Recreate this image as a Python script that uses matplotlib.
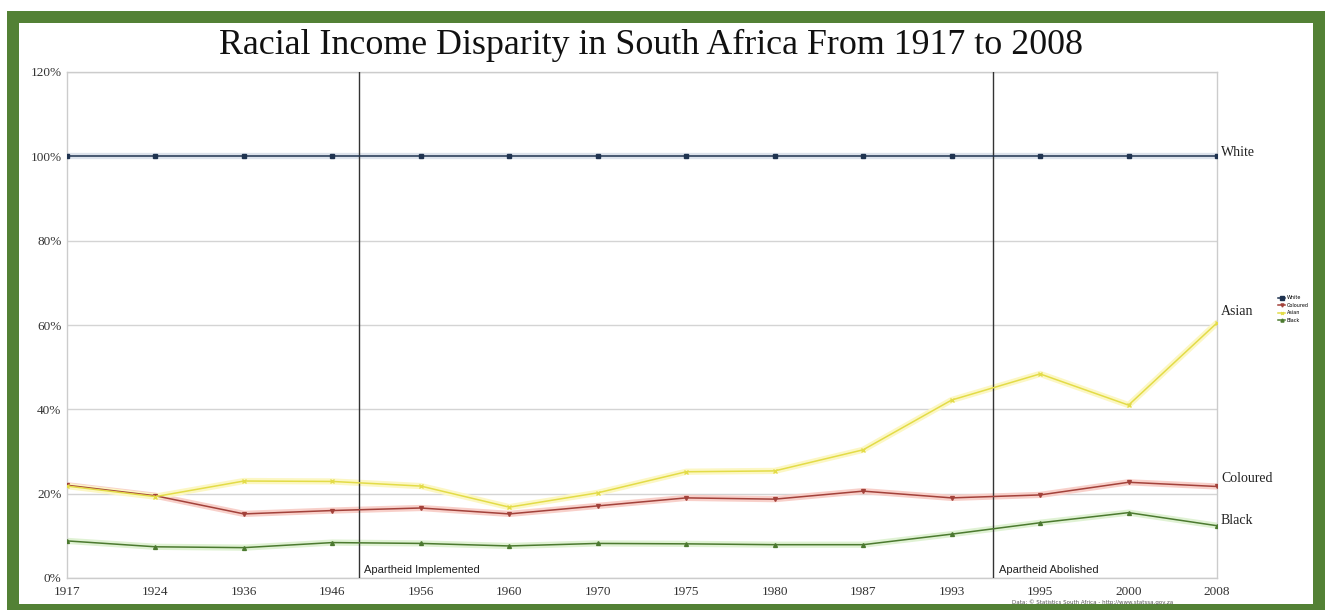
import matplotlib.pyplot as plt
from matplotlib.patches import Rectangle
import numpy as np

# --- Data (share of White income, %) ---
years = ['1917', '1924', '1936', '1946', '1956', '1960', '1970',
         '1975', '1980', '1987', '1993', '1995', '2000', '2008']
white = [100, 100, 100, 100, 100, 100, 100, 100, 100, 100, 100, 100, 100, 100]
coloured = [22.0, 19.5, 15.2, 16.0, 16.6, 15.2, 17.1, 19.0, 18.7, 20.6, 19.0, 19.7, 22.7, 21.7]
asian = [21.8, 19.3, 23.0, 22.9, 21.8, 16.8, 20.2, 25.2, 25.4, 30.4, 42.2, 48.4, 41.0, 60.5]
black = [8.8, 7.4, 7.2, 8.4, 8.2, 7.6, 8.2, 8.1, 7.9, 7.9, 10.4, 13.1, 15.5, 12.4]

event_labels = ['Apartheid Implemented', 'Apartheid Abolished']
event_pos = [3.3, 10.47]

x = np.arange(len(years))

fig = plt.figure(figsize=(13.25, 6.10), dpi=100)
fig.patch.set_facecolor('white')

# green frame around the picture
green = '#538135'
W, H = 1325, 610
for (x0, y0, w, h) in [(7, 11, 1318, 12), (7, 11, 12, 599), (1313, 11, 12, 599), (7, 604, 1318, 6)]:
    fig.add_artist(Rectangle((x0 / W, 1 - (y0 + h) / H), w / W, h / H,
                             transform=fig.transFigure, facecolor=green,
                             edgecolor='none', zorder=0))

ax = fig.add_axes([67 / W, 32 / H, (1217 - 67) / W, (578 - 72) / H])

series = [
    ('White', white, '#1f3350', '#dde3ec', 's', 3.2),
    ('Coloured', coloured, '#a3423b', '#f8d0ca', 'v', 2.8),
    ('Asian', asian, '#e3dc48', '#fcf7c4', 'x', 2.5),
    ('Black', black, '#4c7a30', '#e0f2d4', '^', 2.8),
]
for name, vals, col, halo, mk, ms in series:
    ax.plot(x, vals, color=halo, lw=4.5, zorder=2.5, solid_capstyle='round')
    ax.plot(x, vals, color=col, lw=1.1, marker=mk, ms=ms, mec=col, mfc=col,
            label=name, zorder=3)

label_off = {'White': 4, 'Coloured': 8, 'Asian': 11, 'Black': 5}
for name, vals, *_ in series:
    ax.annotate(name, (x[-1], vals[-1]), xytext=(4, label_off[name]),
                textcoords='offset pixels', va='center', ha='left',
                fontsize=10, family='Liberation Serif', color='#222222',
                annotation_clip=False)

# apartheid markers
for pos, lab in zip(event_pos, event_labels):
    ax.axvline(pos, color='#333333', lw=1.0, zorder=2.7)
    ax.text(pos + 0.06, 2.0, lab, fontsize=8, family='Liberation Sans',
            color='#222222', va='center', ha='left')

ax.set_xlim(0, len(years) - 1)
ax.set_ylim(0, 120)
ax.set_yticks(np.arange(0, 121, 20))
ax.set_yticklabels([f'{v}%' for v in range(0, 121, 20)])
ax.set_xticks(x)
ax.set_xticklabels(years)
for lbl in ax.get_xticklabels() + ax.get_yticklabels():
    lbl.set_family('Liberation Serif')
    lbl.set_fontsize(9.5)
    lbl.set_color('#333333')
ax.tick_params(length=0, pad=4)
ax.tick_params(axis='x', pad=6)

ax.grid(True, axis='y', color='#d4d4d4', lw=1.0)
ax.set_axisbelow(True)
for s in ax.spines.values():
    s.set_color('#cccccc')
    s.set_linewidth(1.0)

fig.text(651 / W, 1 - 45 / H,
         'Racial Income Disparity in South Africa From 1917 to 2008',
         family='Liberation Serif', fontsize=25.8, color='#111111',
         ha='center', va='center')

fig.legend(loc='upper left', bbox_to_anchor=(1276 / W, 1 - 293 / H),
           fontsize=3.5, frameon=False, handlelength=1.3, labelspacing=0.5,
           borderpad=0, handletextpad=0.4, markerscale=0.8)

fig.text(1012 / W, 1 - 602 / H,
         'Data: \u00a9 Statistics South Africa - http://www.statssa.gov.za',
         fontsize=4, color='#555555', va='center', ha='left')

plt.savefig('out.png', dpi=100, facecolor=fig.get_facecolor())
